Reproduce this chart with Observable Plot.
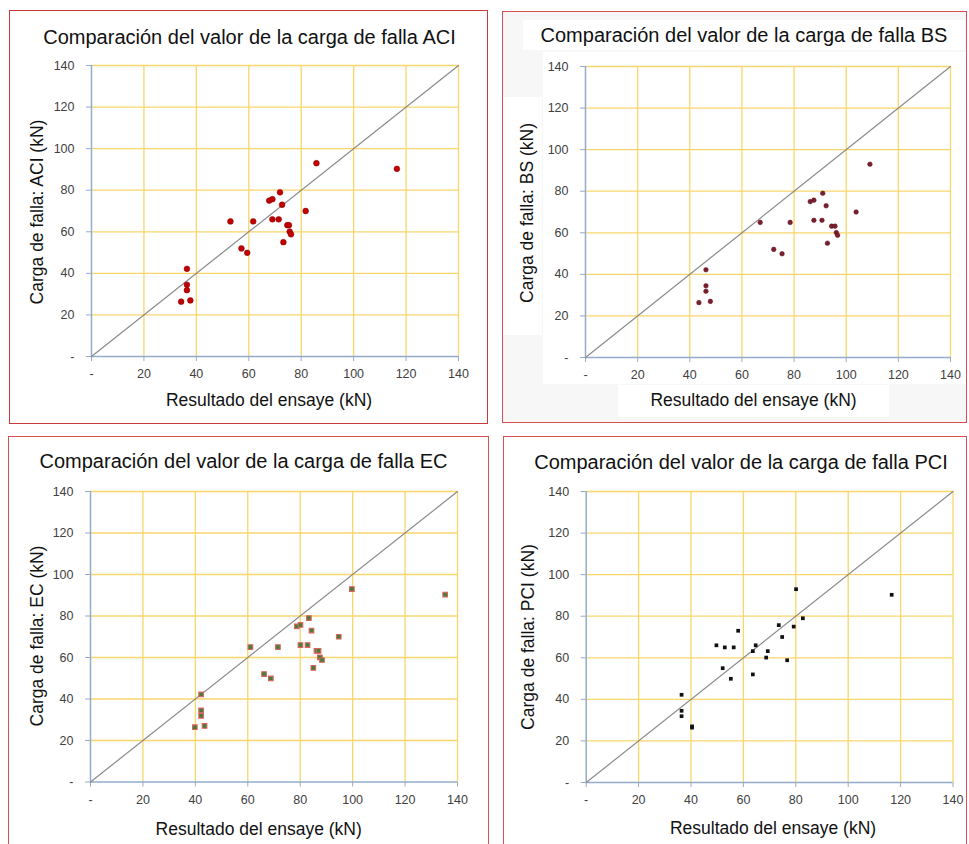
<!DOCTYPE html>
<html><head><meta charset="utf-8">
<script src="https://cdn.jsdelivr.net/npm/d3@7"></script>
<script src="https://cdn.jsdelivr.net/npm/@observablehq/plot@0.6"></script>
<style>
html,body{margin:0;padding:0;background:#fff;}
#root{position:relative;width:969px;height:844px;overflow:hidden;font-family:"Liberation Sans",Arial,sans-serif;}
.panel{position:absolute;box-sizing:border-box;border:1.5px solid #d24c4c;background:#fff;}
.box{position:absolute;background:#fff;}
.title{position:absolute;width:600px;text-align:center;font-size:20px;line-height:24px;color:#111;white-space:nowrap;}
.xl{position:absolute;width:400px;text-align:center;font-size:17.5px;line-height:20px;color:#111;white-space:nowrap;}
.yl{position:absolute;font-size:17.5px;line-height:20px;color:#111;white-space:nowrap;transform:translate(-50%,-50%) rotate(-90deg);}
svg.chart{position:absolute;overflow:visible;}
</style></head><body><div id="root"></div>
<script>
// ---- data ----
const tickValues = [0, 20, 40, 60, 80, 100, 120, 140];
const tickLabels = ["-", "20", "40", "60", "80", "100", "120", "140"];
const refLine = [0, 140];

// measured failure load (y, kN), shared by the four panels
const measured = [93, 90.3, 79, 75, 75.7, 73, 70, 65, 65, 66, 66, 63.2, 63.2, 60.1, 58.8, 55, 52, 49.9, 42.2, 34.5, 31.9, 26.4, 27];
// predicted / test value (x, kN), one list per code
const aciX = [85.8, 116.5, 71.9, 67.8, 69, 72.7, 81.7, 53, 61.7, 69, 71.4, 74.7, 75.3, 75.6, 76.1, 73.2, 57.2, 59.4, 36.4, 36.4, 36.4, 34.2, 37.7];
const bsX  = [109.1, null, 91, 86.2, 87.6, 92.3, 103.8, 67, 78.5, 87.6, 90.7, 94.4, 95.7, 96.2, 96.7, 92.8, 72.2, 75.4, 46.2, 46.2, 46.2, 43.5, 47.9];
const ecX  = [99.7, 135.3, 83.3, 78.7, 80.1, 84.3, 94.7, 61, 71.5, 80.1, 82.8, 86.2, 87, 87.5, 88.3, 85, 66.2, 68.8, 42.2, 42.2, 42.2, 39.8, 43.5];
const pciX = [80.1, 116.6, 82.7, 79.2, 73.5, 58, 74.8, 52.9, 56.3, 49.7, 64.7, 63.6, 69.3, 68.7, 76.7, 52.1, 63.6, 55.2, 36.4, 36.4, 36.4, 40.4, 40.4];

const codes = ["ACI", "BS", "EC", "PCI"];
const titles = codes.map(c => "Comparación del valor de la carga de falla " + c);
const yLabels = codes.map(c => "Carga de falla: " + c + " (kN)");
const xLabel = "Resultado del ensaye (kN)";

// ---- layout ----
const panels = [
  {xs: aciX, box: [9, 10, 488, 424], plot: [91, 65, 458, 356], title: [249.5, 37], xl: [269, 400], yl: [37, 212], border: "#c8393b",
   dot: {r: 2.9, fill: "#c00000", stroke: "#8a0000", strokeWidth: 0.5}},
  {xs: bsX, box: [502, 11, 967, 423], plot: [585, 66, 950, 357], title: [744, 35], xl: [753.5, 400], yl: [527, 213], border: "#d65050", gray: true,
   dot: {r: 2.3, fill: "#7b1f2e", stroke: "#5a1020", strokeWidth: 0.5}},
  {xs: ecX, box: [8, 436, 489, 848], plot: [90, 491, 457, 781.5], title: [243.5, 461], xl: [258.7, 829], yl: [37, 636], border: "#d65050",
   dot: {symbol: "square", r: 2.6, fill: "#3f7f3a", stroke: "#e0625e", strokeWidth: 1.1}},
  {xs: pciX, box: [503, 436, 967, 848], plot: [585.7, 491, 952.5, 782], title: [741, 461.5], xl: [773, 828], yl: [528, 637], border: "#d65050",
   dot: {symbol: "square", r: 2.1, fill: "#111"}}
];

const root = document.getElementById("root");
const gold = "#f8d66a", axisBlue = "#94abcc";
const fmt = d => tickLabels[tickValues.indexOf(d)];

function addDiv(cls, text, style) {
  const d = document.createElement("div");
  d.className = cls;
  if (text) d.textContent = text;
  Object.assign(d.style, style);
  root.appendChild(d);
  return d;
}

panels.forEach((p, i) => {
  const [bx0, by0, bx1, by1] = p.box;
  const [px0, py0, px1, py1] = p.plot;
  addDiv("panel", null, {left: bx0 + "px", top: by0 + "px", width: (bx1 - bx0) + "px", height: (by1 - by0) + "px",
    borderColor: p.border, background: p.gray ? "#f7f7f7" : "#fff"});
  if (p.gray) {
    addDiv("box", null, {left: "523px", top: "20px", width: "442px", height: "30px"});
    addDiv("box", null, {left: "503px", top: "97px", width: "39px", height: "238px"});
    addDiv("box", null, {left: "543px", top: "52px", width: "423px", height: "332px"});
    addDiv("box", null, {left: "618px", top: "385px", width: "271px", height: "32px"});
  }
  const data = measured.map((y, k) => ({x: p.xs[k], y})).filter(d => d.x != null);
  const w = bx1 - bx0, h = by1 - by0;
  const svg = Plot.plot({
    width: w, height: h,
    marginLeft: px0 - bx0, marginTop: py0 - by0, marginRight: bx1 - px1, marginBottom: by1 - py1,
    x: {domain: [0, 140]},
    y: {domain: [0, 140]},
    style: {fontFamily: "'Liberation Sans', Arial, sans-serif", fontSize: "12.5px", background: "transparent", color: "#404040"},
    marks: [
      Plot.ruleX(tickValues.filter(d => d > 0), {stroke: gold, strokeWidth: 1.3}),
      Plot.ruleY(tickValues.filter(d => d > 0), {stroke: gold, strokeWidth: 1.3}),
      Plot.ruleX([0], {stroke: axisBlue, strokeWidth: 1.5}),
      Plot.ruleY([0], {stroke: axisBlue, strokeWidth: 1.5}),
      Plot.axisX({ticks: tickValues, tickFormat: fmt, tickSize: 5, tickPadding: 8, stroke: axisBlue, fill: "#404040", label: null}),
      Plot.axisY({ticks: tickValues, tickFormat: fmt, tickSize: 5, tickPadding: 12, stroke: axisBlue, fill: "#404040", label: null}),
      Plot.line(refLine, {x: d => d, y: d => d, stroke: "#8a8a8a", strokeWidth: 1.2}),
      Plot.dot(data, {x: "x", y: "y", ...p.dot})
    ]
  });
  svg.classList.add("chart");
  svg.style.left = bx0 + "px";
  svg.style.top = by0 + "px";
  root.appendChild(svg);
  addDiv("title", titles[i], {left: (p.title[0] - 300) + "px", top: (p.title[1] - 12) + "px"});
  addDiv("xl", xLabel, {left: (p.xl[0] - 200) + "px", top: (p.xl[1] - 10) + "px"});
  addDiv("yl", yLabels[i], {left: p.yl[0] + "px", top: p.yl[1] + "px"});
});
</script>
</body></html>
